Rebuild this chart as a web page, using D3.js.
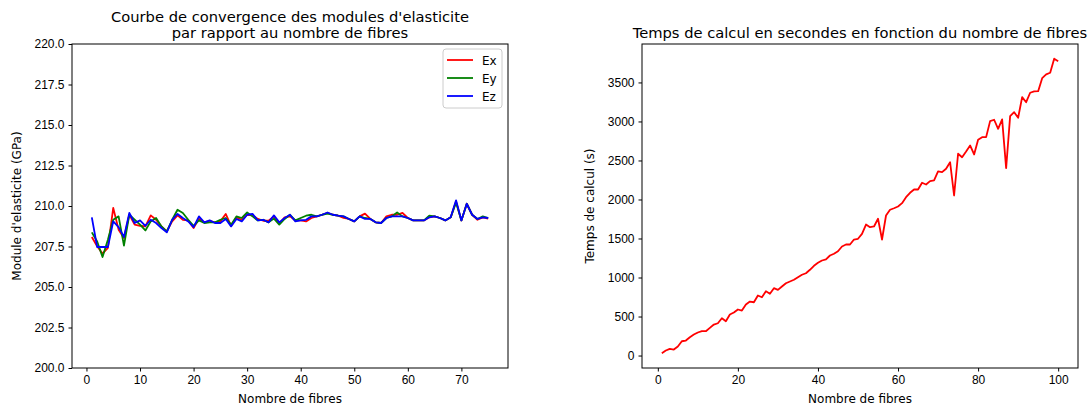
<!DOCTYPE html>
<html><head><meta charset="utf-8">
<script src="https://cdn.jsdelivr.net/npm/d3@7"></script>
<style>
body{margin:0;background:#fff;}
svg{display:block;font-family:"DejaVu Sans",sans-serif;}
.tick text{font-size:12px;fill:#000;}
.domain{stroke:#000;}
</style></head><body>
<svg id="c" width="1092" height="407"></svg>
<script>
// ---- data ----
const fibresLeft = d3.range(1, 76);
const Ex = [208.09,207.51,207.06,207.41,209.88,208.54,208.02,209.46,208.85,208.78,
208.74,209.42,209.15,208.74,208.43,209.05,209.42,209.15,209.11,208.64,
209.22,208.99,209.09,208.99,209.05,209.51,208.78,209.30,209.15,209.46,
209.42,209.20,209.09,209.09,209.36,208.91,209.30,209.36,209.11,209.11,
209.05,209.26,209.36,209.46,209.57,209.46,209.40,209.26,209.20,209.05,
209.36,209.53,209.20,208.99,208.95,209.36,209.46,209.46,209.57,209.26,
209.11,209.11,209.11,209.30,209.36,209.26,209.11,209.30,210.28,209.11,
210.14,209.46,209.15,209.30,209.22];
const Ey = [208.37,207.81,206.85,207.92,209.15,209.36,207.55,209.46,209.15,208.85,
208.49,209.05,209.26,208.74,208.43,209.15,209.77,209.57,209.15,208.78,
209.11,208.95,208.99,208.99,209.15,209.26,208.85,209.36,209.26,209.60,
209.36,209.11,209.15,208.99,209.22,208.85,209.20,209.46,209.11,209.26,
209.40,209.46,209.36,209.46,209.53,209.46,209.40,209.36,209.20,209.05,
209.36,209.26,209.20,208.99,208.95,209.26,209.36,209.60,209.36,209.26,
209.11,209.11,209.11,209.40,209.36,209.26,209.11,209.30,210.22,209.11,
210.14,209.46,209.20,209.36,209.26];
const Ez = [209.30,207.47,207.47,207.47,209.05,208.70,208.09,209.57,208.95,209.11,
208.78,209.15,208.95,208.64,208.37,209.15,209.51,209.26,209.05,208.70,
209.36,208.99,209.11,208.95,208.95,209.20,208.74,209.20,209.05,209.46,
209.51,209.11,209.15,208.99,209.42,208.99,209.26,209.46,209.05,209.11,
209.15,209.36,209.36,209.46,209.60,209.46,209.40,209.36,209.20,209.05,
209.36,209.20,209.20,208.99,208.95,209.26,209.36,209.36,209.36,209.26,
209.11,209.11,209.11,209.30,209.36,209.26,209.11,209.30,210.35,209.11,
210.14,209.46,209.20,209.30,209.26];
const fibresRight = d3.range(1, 101);
const temps = [29,64,86,77,115,183,192,235,269,295,
312,312,355,397,414,478,440,526,551,590,
577,654,692,683,769,747,824,791,863,842,
885,927,949,971,1004,1035,1055,1099,1150,1188,
1218,1231,1282,1304,1337,1397,1423,1423,1487,1496,
1560,1679,1645,1654,1753,1487,1795,1868,1888,1910,
1953,2029,2086,2128,2128,2214,2192,2235,2244,2359,
2350,2394,2478,2051,2586,2542,2615,2692,2577,2765,
2799,2799,3004,3022,2906,3026,2401,3068,3119,3047,
3312,3247,3368,3385,3388,3555,3603,3624,3804,3773];
const leftYTicks = [200,202.5,205,207.5,210,212.5,215,217.5,220];
const leftXTicks = [0,10,20,30,40,50,60,70];
const rightYTicks = [0,500,1000,1500,2000,2500,3000,3500];
const rightXTicks = [0,20,40,60,80,100];
const seriesNames = ["Ex","Ey","Ez"];
const seriesColors = ["#ff0000","#008000","#0000ff"];

const svg = d3.select("#c");
const plotTop = 44, plotBottom = 368;

function pad(ext){const r=ext[1]-ext[0];return [ext[0]-0.05*r, ext[1]+0.05*r];}

// ---- left chart ----
const L = {x0:72, x1:508};
const xL = d3.scaleLinear().domain(pad(d3.extent(fibresLeft))).range([L.x0, L.x1]);
const yL = d3.scaleLinear().domain([200,220]).range([plotBottom, plotTop]);
const gL = svg.append("g");
gL.append("g").attr("transform",`translate(0,${plotBottom})`)
  .call(d3.axisBottom(xL).tickValues(leftXTicks).tickSize(3.5).tickPadding(4).tickFormat(d3.format("d")));
gL.append("g").attr("transform",`translate(${L.x0},0)`)
  .call(d3.axisLeft(yL).tickValues(leftYTicks).tickSize(3.5).tickPadding(4).tickFormat(d3.format(".1f")));
gL.append("rect").attr("x",L.x0).attr("y",plotTop).attr("width",L.x1-L.x0).attr("height",plotBottom-plotTop)
  .attr("fill","none").attr("stroke","#000").attr("stroke-width",1);
[Ex,Ey,Ez].forEach((s,i)=>{
  gL.append("path").datum(s).attr("fill","none").attr("stroke",seriesColors[i]).attr("stroke-width",1.8)
    .attr("stroke-linejoin","round")
    .attr("d", d3.line().x((d,j)=>xL(fibresLeft[j])).y(d=>yL(d)));
});
gL.append("text").attr("x",(L.x0+L.x1)/2).attr("y",22).attr("text-anchor","middle").attr("font-size",14.7)
  .text("Courbe de convergence des modules d'elasticite");
gL.append("text").attr("x",(L.x0+L.x1)/2).attr("y",38).attr("text-anchor","middle").attr("font-size",14.7)
  .text("par rapport au nombre de fibres");
gL.append("text").attr("x",(L.x0+L.x1)/2).attr("y",403).attr("text-anchor","middle").attr("font-size",12)
  .text("Nombre de fibres");
gL.append("text").attr("transform",`translate(21,${(plotTop+plotBottom)/2}) rotate(-90)`).attr("text-anchor","middle").attr("font-size",12)
  .text("Module d'elasticite (GPa)");
// legend
const lg = gL.append("g");
lg.append("rect").attr("x",443).attr("y",49).attr("width",59).attr("height",59).attr("rx",3)
  .attr("fill","#fff").attr("fill-opacity",0.8).attr("stroke","#cccccc");
seriesNames.forEach((n,i)=>{
  const yy = 60 + i*18;
  lg.append("line").attr("x1",447).attr("x2",473).attr("y1",yy).attr("y2",yy)
    .attr("stroke",seriesColors[i]).attr("stroke-width",1.8);
  lg.append("text").attr("x",482).attr("y",yy+4.5).attr("font-size",12).text(n);
});

// ---- right chart ----
const R = {x0:642, x1:1078};
const xR = d3.scaleLinear().domain(pad(d3.extent(fibresRight))).range([R.x0, R.x1]);
const yR = d3.scaleLinear().domain(pad(d3.extent(temps))).range([plotBottom, plotTop]);
const gR = svg.append("g");
gR.append("g").attr("transform",`translate(0,${plotBottom})`)
  .call(d3.axisBottom(xR).tickValues(rightXTicks).tickSize(3.5).tickPadding(4).tickFormat(d3.format("d")));
gR.append("g").attr("transform",`translate(${R.x0},0)`)
  .call(d3.axisLeft(yR).tickValues(rightYTicks).tickSize(3.5).tickPadding(4).tickFormat(d3.format("d")));
gR.append("rect").attr("x",R.x0).attr("y",plotTop).attr("width",R.x1-R.x0).attr("height",plotBottom-plotTop)
  .attr("fill","none").attr("stroke","#000").attr("stroke-width",1);
gR.append("path").datum(temps).attr("fill","none").attr("stroke","#ff0000").attr("stroke-width",1.8)
  .attr("stroke-linejoin","round")
  .attr("d", d3.line().x((d,j)=>xR(fibresRight[j])).y(d=>yR(d)));
gR.append("text").attr("x",(R.x0+R.x1)/2).attr("y",38).attr("text-anchor","middle").attr("font-size",14.7)
  .text("Temps de calcul en secondes en fonction du nombre de fibres");
gR.append("text").attr("x",(R.x0+R.x1)/2).attr("y",403).attr("text-anchor","middle").attr("font-size",12)
  .text("Nombre de fibres");
gR.append("text").attr("transform",`translate(594,${(plotTop+plotBottom)/2}) rotate(-90)`).attr("text-anchor","middle").attr("font-size",12)
  .text("Temps de calcul (s)");
svg.selectAll(".domain").remove();
</script></body></html>
